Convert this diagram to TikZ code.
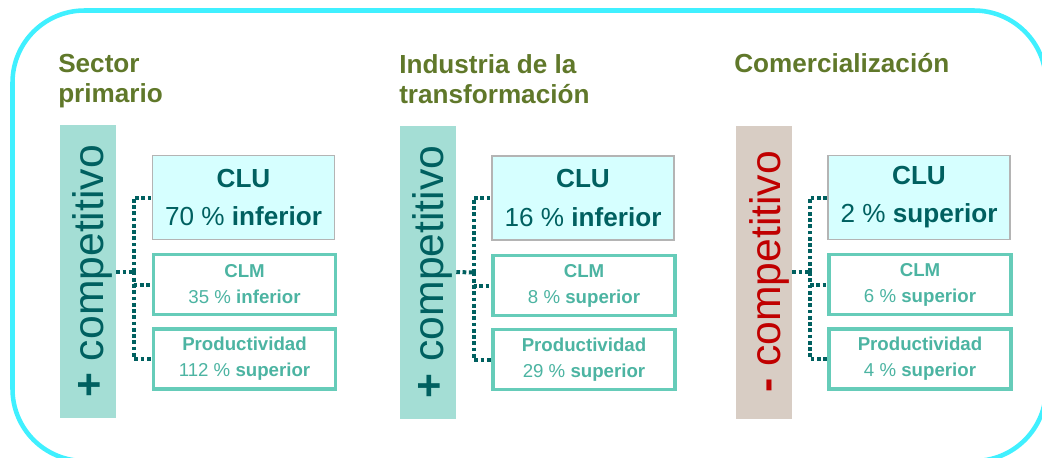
\documentclass[tikz,border=0pt]{standalone}
\usepackage{fontspec}
\setmainfont{Liberation Sans}
\definecolor{framecyan}{RGB}{64,240,255}
\definecolor{olive}{RGB}{96,120,42}
\definecolor{barteal}{RGB}{164,222,213}
\definecolor{bartaupe}{RGB}{216,205,196}
\definecolor{darkteal}{RGB}{0,96,96}
\definecolor{redtxt}{RGB}{192,0,0}
\definecolor{clufill}{RGB}{214,255,255}
\definecolor{clugray}{RGB}{180,180,180}
\definecolor{tealline}{RGB}{102,204,185}
\definecolor{tealtxt}{RGB}{76,180,162}
\begin{document}
\begin{tikzpicture}[x=0.75pt,y=-0.75pt,
  outerframe/.style={draw=framecyan,line width=3.4pt,rounded corners=54pt},
  title/.style={anchor=base west,inner sep=0pt,text=olive,font=\bfseries\fontsize{19.6}{22}\selectfont},
  bar/.style={minimum width=42pt,minimum height=219.75pt,inner sep=0pt},
  vtext/.style={rotate=90,anchor=base,inner sep=0pt,font=\fontsize{32}{36}\selectfont},
  clubox/.style={draw=clugray,line width=0.8pt,fill=clufill,minimum width=136.5pt,minimum height=63pt,inner sep=0pt,align=center,text=darkteal,font=\fontsize{19.6}{28.5}\selectfont},
  subbox/.style={draw=tealline,line width=2.4pt,fill=white,minimum width=136.5pt,minimum height=45pt,inner sep=0pt,align=center,text=tealtxt,font=\fontsize{14}{19.5}\selectfont},
  dotline/.style={draw=darkteal,line width=3pt,dash pattern=on 2.8pt off 1.9pt}
]
\useasboundingbox (0,0) rectangle (1042,457);
\begin{scope}
\clip (0,0) rectangle (1042,457);
\draw[outerframe] (12.5,10.5) rectangle (1046,461);
\end{scope}

% titles
\node[title] (t1a) at (58,72) {Sector};
\node[title] (t1b) at (58,102.5) {primario};
\node[title] (t2a) at (399,73) {Industria de la};
\node[title] (t2b) at (399,103) {transformación};
\node[title] (t3a) at (734,72) {Comercialización};

% section 1
\node[bar,fill=barteal] (b1) at (88,271.5) {};
\node[vtext,text=darkteal] (v1) at (103,271.5) {\textbf{+} competitivo};
\node[clubox] (c1) at (243.5,197.5) {\textbf{CLU}\\70 \% \textbf{inferior}};
\node[subbox] (m1) at (244.5,284.5) {\textbf{CLM}\\35 \% \textbf{inferior}};
\node[subbox] (p1) at (244.5,359) {\textbf{Productividad}\\112 \% \textbf{superior}};
\coordinate (j1) at (134,271.5);
\draw[dotline] (b1.east) -- (j1);
\draw[dotline] (j1) |- (c1.west);
\draw[dotline] (j1) |- (m1.west);
\draw[dotline] (j1) |- (p1.west);

% section 2
\node[bar,fill=barteal] (b2) at (428,272) {};
\node[vtext,text=darkteal] (v2) at (443,272) {\textbf{+} competitivo};
\node[clubox] (c2) at (583,198) {\textbf{CLU}\\16 \% \textbf{inferior}};
\node[subbox] (m2) at (584,285.5) {\textbf{CLM}\\8 \% \textbf{superior}};
\node[subbox] (p2) at (584,359.5) {\textbf{Productividad}\\29 \% \textbf{superior}};
\coordinate (j2) at (473.5,272.5);
\draw[dotline] (b2.east) -- (j2);
\draw[dotline] (j2) |- (c2.west);
\draw[dotline] (j2) |- (m2.west);
\draw[dotline] (j2) |- (p2.west);

% section 3
\node[bar,fill=bartaupe] (b3) at (764,272) {};
\node[vtext,text=redtxt] (v3) at (780,272) {\textbf{-} competitivo};
\node[clubox] (c3) at (919,197.5) {\textbf{CLU}\\2 \% \textbf{superior}};
\node[subbox] (m3) at (920,284.5) {\textbf{CLM}\\6 \% \textbf{superior}};
\node[subbox] (p3) at (920,359) {\textbf{Productividad}\\4 \% \textbf{superior}};
\coordinate (j3) at (810,272);
\draw[dotline] (b3.east) -- (j3);
\draw[dotline] (j3) |- (c3.west);
\draw[dotline] (j3) |- (m3.west);
\draw[dotline] (j3) |- (p3.west);
\end{tikzpicture}
\end{document}
